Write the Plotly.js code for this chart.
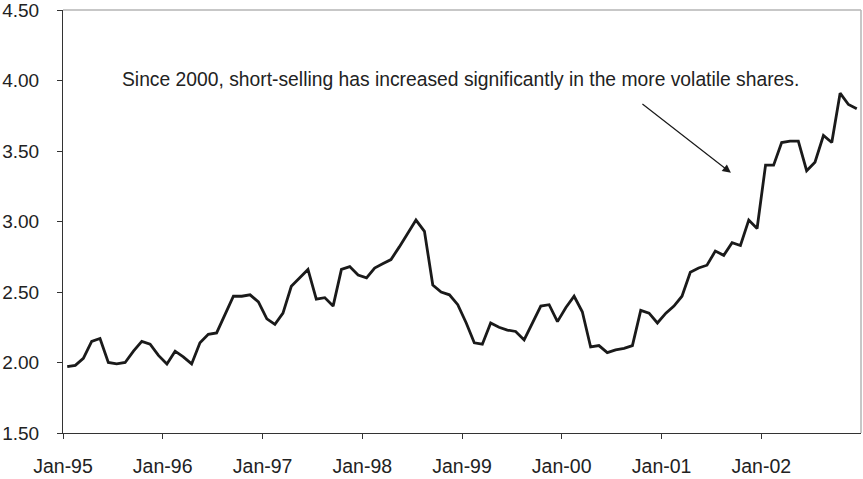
<!DOCTYPE html>
<html>
<head>
<meta charset="utf-8">
<script src="https://cdn.plot.ly/plotly-3.0.1.min.js"></script>
<style>
  html, body { margin: 0; padding: 0; background: #fff; }
  #chart { width: 863px; height: 479px; }
</style>
</head>
<body>
<div id="chart"></div>
<script>
// Monthly observations, Jan-1995 .. Dec-2002
const months = [
  '1995-01','1995-02','1995-03','1995-04','1995-05','1995-06','1995-07','1995-08','1995-09','1995-10','1995-11','1995-12',
  '1996-01','1996-02','1996-03','1996-04','1996-05','1996-06','1996-07','1996-08','1996-09','1996-10','1996-11','1996-12',
  '1997-01','1997-02','1997-03','1997-04','1997-05','1997-06','1997-07','1997-08','1997-09','1997-10','1997-11','1997-12',
  '1998-01','1998-02','1998-03','1998-04','1998-05','1998-06','1998-07','1998-08','1998-09','1998-10','1998-11','1998-12',
  '1999-01','1999-02','1999-03','1999-04','1999-05','1999-06','1999-07','1999-08','1999-09','1999-10','1999-11','1999-12',
  '2000-01','2000-02','2000-03','2000-04','2000-05','2000-06','2000-07','2000-08','2000-09','2000-10','2000-11','2000-12',
  '2001-01','2001-02','2001-03','2001-04','2001-05','2001-06','2001-07','2001-08','2001-09','2001-10','2001-11','2001-12',
  '2002-01','2002-02','2002-03','2002-04','2002-05','2002-06','2002-07','2002-08','2002-09','2002-10','2002-11','2002-12'
];

const values = [
  1.97, 1.98, 2.03, 2.15, 2.17, 2.00, 1.99, 2.00, 2.08, 2.15, 2.13, 2.05,
  1.99, 2.08, 2.04, 1.99, 2.14, 2.20, 2.21, 2.34, 2.47, 2.47, 2.48, 2.43,
  2.31, 2.27, 2.35, 2.54, 2.60, 2.66, 2.45, 2.46, 2.40, 2.66, 2.68, 2.62,
  2.60, 2.67, 2.70, 2.73, 2.82, 2.92, 3.01, 2.93, 2.55, 2.50, 2.48, 2.41,
  2.28, 2.14, 2.13, 2.28, 2.25, 2.23, 2.22, 2.16, 2.28, 2.40, 2.41, 2.29,
  2.39, 2.47, 2.36, 2.11, 2.12, 2.07, 2.09, 2.10, 2.12, 2.37, 2.35, 2.28,
  2.35, 2.40, 2.47, 2.64, 2.67, 2.69, 2.79, 2.76, 2.85, 2.83, 3.01, 2.95,
  3.40, 3.40, 3.56, 3.57, 3.57, 3.36, 3.42, 3.61, 3.56, 3.91, 3.83, 3.80
];

const xTickVals = ['1995-01-01','1996-01-01','1997-01-01','1998-01-01','1999-01-01','2000-01-01','2001-01-01','2002-01-01'];
const xTickText = ['Jan-95','Jan-96','Jan-97','Jan-98','Jan-99','Jan-00','Jan-01','Jan-02'];
const yTickVals = [1.5, 2.0, 2.5, 3.0, 3.5, 4.0, 4.5];
const yTickText = ['1.50','2.00','2.50','3.00','3.50','4.00','4.50'];

const noteText = 'Since 2000, short-selling has increased significantly in the more volatile shares.';

const FONT = 'Liberation Sans, Arial, Helvetica, sans-serif';
const TXT = '#222222';

const trace = {
  type: 'scatter',
  mode: 'lines',
  x: months,
  y: values,
  xperiod: 'M1',
  xperiodalignment: 'middle',
  line: { color: '#1a1a1a', width: 2.8 },
  hoverinfo: 'x+y'
};

const layout = {
  width: 863,
  height: 479,
  margin: { l: 63, r: 2, t: 10, b: 46 },
  paper_bgcolor: '#ffffff',
  plot_bgcolor: '#ffffff',
  showlegend: false,
  font: { family: FONT, size: 19, color: TXT },
  xaxis: {
    type: 'date',
    range: ['1995-01-01', '2003-01-01'],
    tickmode: 'array',
    tickvals: xTickVals,
    ticktext: xTickText,
    ticks: 'outside',
    ticklen: 5,
    tickwidth: 1,
    tickcolor: '#333',
    showline: true,
    linecolor: '#333',
    linewidth: 1,
    showgrid: false,
    zeroline: false,
    ticklabelstandoff: 11,
    ticklabeloverflow: 'allow',
    tickfont: { family: FONT, size: 19.5, color: TXT }
  },
  yaxis: {
    range: [1.5, 4.5],
    tickmode: 'array',
    tickvals: yTickVals,
    ticktext: yTickText,
    ticks: 'outside',
    ticklen: 5,
    tickwidth: 1,
    tickcolor: '#333',
    showline: true,
    linecolor: '#333',
    linewidth: 1,
    showgrid: false,
    zeroline: false,
    ticklabelstandoff: 14,
    ticklabeloverflow: 'allow',
    tickfont: { family: FONT, size: 19, color: TXT }
  },
  shapes: [
    { type: 'line', xref: 'paper', yref: 'paper', x0: 0, x1: 1, y0: 1, y1: 1,
      line: { color: '#b5b5b5', width: 1.5 } },
    { type: 'line', xref: 'paper', yref: 'paper', x0: 1, x1: 1, y0: 0, y1: 1,
      line: { color: '#b5b5b5', width: 1.5 } }
  ],
  annotations: [
    { xref: 'paper', yref: 'paper', x: 0.498, y: 0.835, xanchor: 'center', yanchor: 'middle',
      text: noteText, showarrow: false,
      font: { family: FONT, size: 19.3, color: TXT } },
    { xref: 'paper', yref: 'paper', x: 0.837, y: 0.615, text: '',
      showarrow: true, arrowhead: 2, arrowsize: 1.4, arrowwidth: 1.2, arrowcolor: '#1a1a1a',
      ax: -90, ay: -70, standoff: 0, startstandoff: 0 }
  ]
};

Plotly.newPlot('chart', [trace], layout, { displayModeBar: false, staticPlot: true });
</script>
</body>
</html>
